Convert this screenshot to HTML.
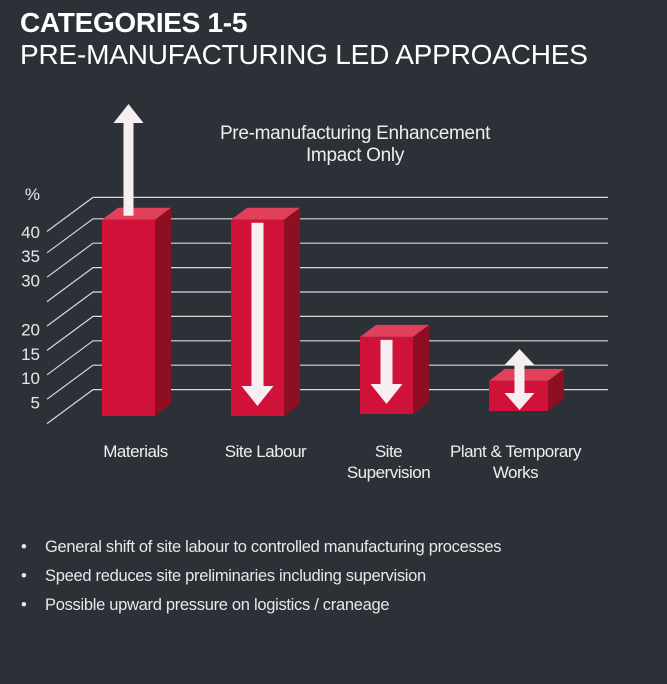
<!DOCTYPE html>
<html><head><meta charset="utf-8"><style>
body{margin:0;width:667px;height:684px;background:#2c3137;font-family:"Liberation Sans",sans-serif;color:#fff;overflow:hidden;position:relative}
.t1{position:absolute;left:20px;top:7px;font-size:28px;font-weight:bold;letter-spacing:-0.3px}
.t2{position:absolute;left:20px;top:39px;font-size:28px;letter-spacing:-0.2px}
ul{position:absolute;left:0;top:538px;margin:0;padding:0;list-style:none;font-size:16.5px;color:#e8e8e8;letter-spacing:-0.3px}
li{position:relative;padding-left:45px;height:29px}
li:before{content:"•";position:absolute;left:21px}
</style></head><body>
<div class="t1">CATEGORIES 1-5</div>
<div class="t2">PRE-MANUFACTURING LED APPROACHES</div>
<svg id="chart" width="667" height="500" style="position:absolute;left:0;top:0" font-family="Liberation Sans, sans-serif"></svg>
<ul>
<li>General shift of site labour to controlled manufacturing processes</li>
<li>Speed reduces site preliminaries including supervision</li>
<li>Possible upward pressure on logistics / craneage</li>
</ul>
<script>
const categories=[["Materials"],["Site Labour"],["Site","Supervision"],["Plant & Temporary","Works"]];
const values=[40,40,16,7];
const arrows=["up","down","down","both"];
const tickValues=[45,40,35,30,25,20,15,10,5];
const tickLabels=["%","40","35","30","","20","15","10","5"];
const NS="http://www.w3.org/2000/svg";
const svg=document.getElementById('chart');
const y=v=>414-v*4.88;
const bx=i=>102+i*129;
const labelShift=[7,8,2,0];
function mk(t,a,p){const e=document.createElementNS(NS,t);for(const k in a)e.setAttribute(k,a[k]);(p||svg).appendChild(e);return e;}
const tt=mk('text',{x:355,y:139,'text-anchor':'middle','font-size':19,fill:'#eee','letter-spacing':'-0.3'});tt.textContent='Pre-manufacturing Enhancement';


const tt2=mk('text',{x:355,y:161,'text-anchor':'middle','font-size':19,fill:'#eee','letter-spacing':'-0.3'});tt2.textContent='Impact Only';


tickValues.forEach((v,i)=>{
 const yy=y(v)+(v===45?3:0);
 const g=mk('polyline',{points:`47,${yy+34} 93,${yy} 608,${yy}`,fill:'none',stroke:'#d8d8d8','stroke-width':1.2});
 
 
 const l=mk('text',{x:40,y:v===45?200:yy+19,'text-anchor':'end','font-size':17,fill:'#e8e8e8'});l.textContent=tickLabels[i];
 
 
});
values.forEach((v,i)=>{
 const x=bx(i),w=i===3?59:53,top=y(v)+1,bot=416-(i>1?2:0)-(i===3?3:0),d=16,dy=12;
 const g=mk('g',{});
 
 
 mk('polygon',{points:`${x+w},${top} ${x+w+d},${top-dy} ${x+w+d},${bot-dy} ${x+w},${bot}`,fill:'#8e0e22'},g);
 mk('polygon',{points:`${x},${top} ${x+d},${top-dy} ${x+w+d},${top-dy} ${x+w},${top}`,fill:'#e0405a'},g);
 mk('rect',{x:x,y:top,width:w,height:bot-top,fill:'#d01139'},g);
 const cx=x+w/2+(i===3?1:0),f='#f6eef0';
 if(arrows[i]==='up'){mk('polygon',{points:`${cx-5},${top-4} ${cx-5},${123} ${cx-15},123 ${cx},104 ${cx+15},123 ${cx+5},123 ${cx+5},${top-4}`,fill:f},g);}
 if(arrows[i]==='down'){mk('polygon',{points:`${cx-6},${top+3} ${cx-6},${bot-30} ${cx-16},${bot-30} ${cx},${bot-10} ${cx+16},${bot-30} ${cx+6},${bot-30} ${cx+6},${top+3}`,fill:f},g);}
 if(arrows[i]==='both'){mk('polygon',{points:`${cx},349 ${cx+15},365 ${cx+5},365 ${cx+5},393 ${cx+15},393 ${cx},410 ${cx-15},393 ${cx-5},393 ${cx-5},365 ${cx-15},365`,fill:f},g);}
 categories[i].forEach((s,j)=>{
  const t=mk('text',{x:x+w/2+(i===3?-3:0)+labelShift[i],y:457+j*21,'text-anchor':'middle','font-size':17,fill:'#eee','letter-spacing':'-0.5'});t.textContent=s;
  
  
 });
});
</script>
</body></html>
